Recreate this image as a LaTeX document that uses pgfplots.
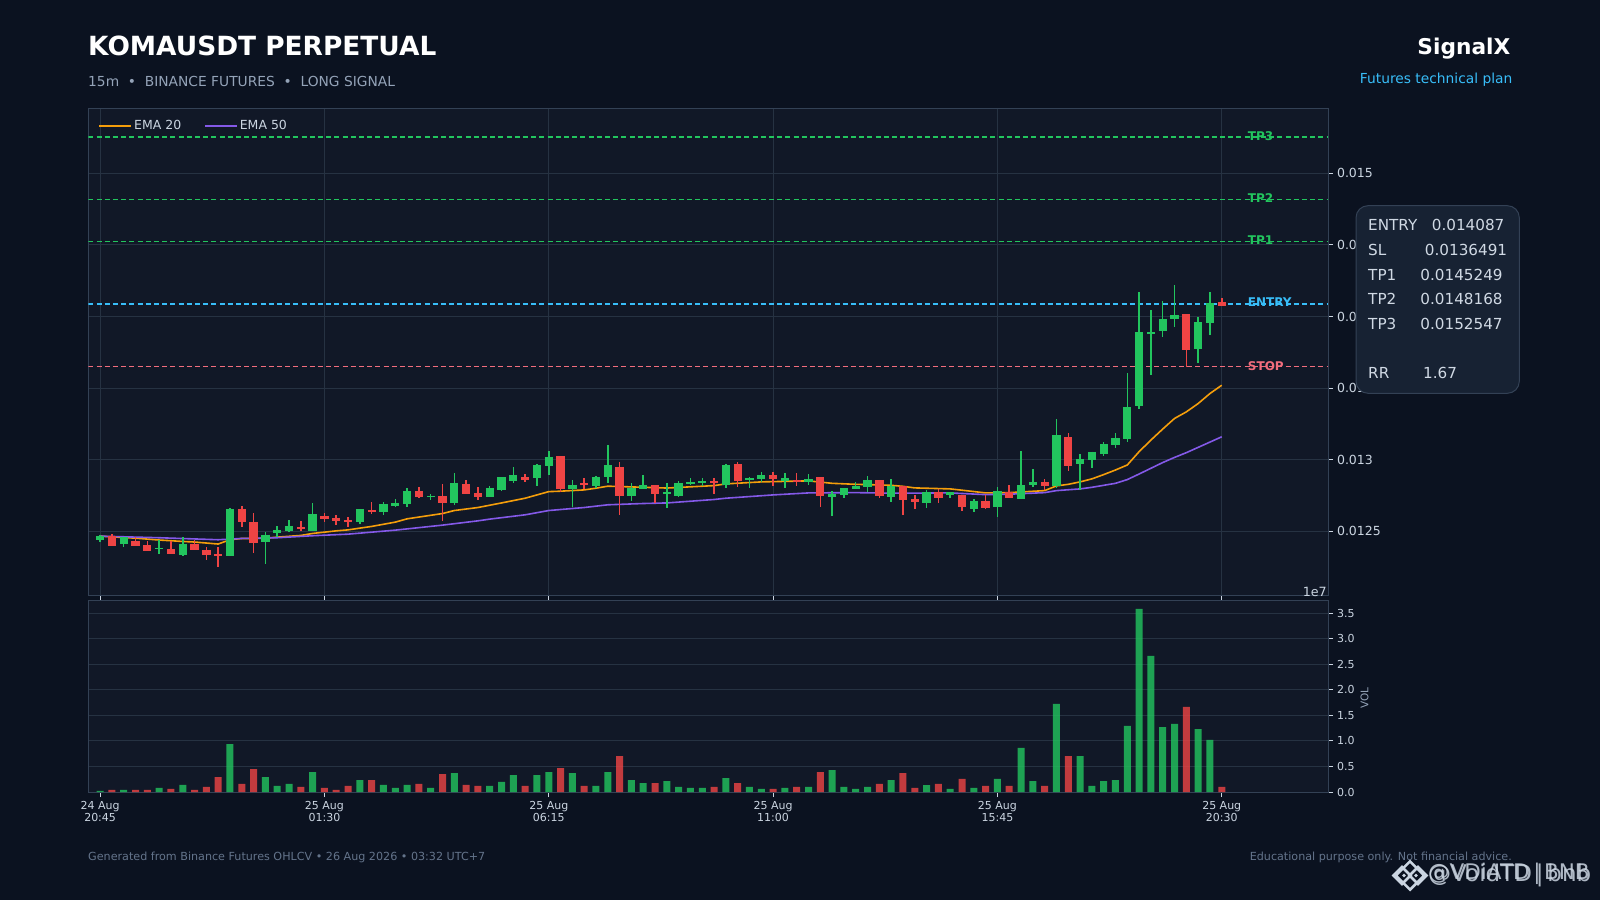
\documentclass[border=0pt]{standalone}
\usepackage{fontspec}
\setmainfont{DejaVu Sans}
\usepackage{pgfplots}
\usepackage{pgfplotstable}
\pgfplotsset{compat=1.18}
\definecolor{bg}{HTML}{0B1220}
\definecolor{panel}{HTML}{111827}
\definecolor{gridc}{HTML}{263242}
\definecolor{spine}{HTML}{334155}
\definecolor{tickc}{HTML}{CBD5E1}
\definecolor{upc}{HTML}{22C55E}
\definecolor{downc}{HTML}{EF4444}
\definecolor{entryc}{HTML}{38BDF8}
\definecolor{stopc}{HTML}{F26D7D}
\definecolor{emaA}{HTML}{F59E0B}
\definecolor{emaB}{HTML}{8459E8}
\definecolor{boxc}{HTML}{172233}
\definecolor{subc}{HTML}{94A3B8}
\definecolor{footc}{HTML}{64748B}
\newcommand{\fs}[1]{\fontsize{#1}{#1}\selectfont}

\pgfplotstableread{
i low bot top high vol
0 0.012425 0.012441 0.012469 0.012476 0.02
2 0.012387 0.012413 0.012457 0.012457 0.04
5 0.012339 0.012373 0.012385 0.012441 0.08
7 0.012325 0.012336 0.012413 0.012459 0.14
11 0.012329 0.012329 0.012657 0.012661 0.94
14 0.012269 0.012427 0.012476 0.012492 0.29
15 0.012459 0.012489 0.012510 0.012536 0.12
16 0.012492 0.012503 0.012538 0.012580 0.157
18 0.012503 0.012503 0.012622 0.012696 0.39
22 0.012548 0.012566 0.012657 0.012657 0.235
24 0.012617 0.012636 0.012691 0.012705 0.14
25 0.012671 0.012678 0.012698 0.012724 0.08
26 0.012673 0.012691 0.012782 0.012803 0.14
28 0.012717 0.012736 0.012747 0.012759 0.08
30 0.012687 0.012698 0.012838 0.012907 0.37
33 0.012738 0.012740 0.012803 0.012814 0.12
34 0.012784 0.012789 0.012879 0.012879 0.196
35 0.012835 0.012851 0.012893 0.012947 0.333
37 0.012819 0.012872 0.012963 0.012967 0.333
38 0.012893 0.012956 0.013019 0.013063 0.39
40 0.012673 0.012796 0.012824 0.012856 0.37
42 0.012805 0.012817 0.012879 0.012886 0.12
43 0.012840 0.012879 0.012963 0.013100 0.39
45 0.012715 0.012747 0.012803 0.012835 0.235
46 0.012793 0.012796 0.012824 0.012891 0.176
48 0.012666 0.012761 0.012775 0.012835 0.215
49 0.012742 0.012747 0.012838 0.012849 0.10
50 0.012821 0.012831 0.012844 0.012870 0.08
51 0.012817 0.012838 0.012851 0.012870 0.08
53 0.012805 0.012824 0.012963 0.012970 0.274
55 0.012803 0.012858 0.012872 0.012882 0.10
56 0.012842 0.012865 0.012893 0.012912 0.06
58 0.012803 0.012851 0.012872 0.012905 0.08
60 0.012824 0.012844 0.012865 0.012898 0.10
62 0.012610 0.012740 0.012761 0.012784 0.43
63 0.012735 0.012754 0.012803 0.012803 0.10
64 0.012796 0.012796 0.012817 0.012842 0.06
65 0.012775 0.012810 0.012859 0.012884 0.10
67 0.012708 0.012740 0.012817 0.012863 0.235
70 0.012666 0.012698 0.012775 0.012789 0.137
72 0.012729 0.012754 0.012775 0.012775 0.06
74 0.012638 0.012657 0.012712 0.012726 0.08
76 0.012603 0.012671 0.012782 0.012812 0.255
78 0.012726 0.012726 0.012824 0.013061 0.862
79 0.012812 0.012824 0.012845 0.012933 0.215
81 0.012805 0.012817 0.013172 0.013281 1.724
83 0.012789 0.012970 0.013005 0.013037 0.705
84 0.012945 0.012998 0.013056 0.013056 0.118
85 0.013023 0.013040 0.013109 0.013121 0.215
86 0.013084 0.013102 0.013151 0.013184 0.235
87 0.013126 0.013144 0.013367 0.013608 1.293
88 0.013351 0.013374 0.013889 0.014172 3.585
89 0.013594 0.013875 0.013889 0.014047 2.664
90 0.013857 0.013896 0.013980 0.014107 1.273
91 0.013926 0.013980 0.014008 0.014221 1.332
93 0.013678 0.013771 0.013959 0.013996 1.234
94 0.013873 0.013952 0.014091 0.014172 1.019
}\upcandles

\pgfplotstableread{
i low bot top high vol
1 0.012399 0.012399 0.012469 0.012480 0.04
3 0.012399 0.012399 0.012434 0.012459 0.04
4 0.012364 0.012364 0.012406 0.012429 0.04
6 0.012339 0.012343 0.012378 0.012429 0.06
8 0.012366 0.012371 0.012413 0.012436 0.04
9 0.012297 0.012336 0.012371 0.012390 0.10
10 0.012248 0.012329 0.012339 0.012390 0.29
12 0.012527 0.012566 0.012657 0.012678 0.157
13 0.012346 0.012420 0.012566 0.012626 0.45
17 0.012499 0.012517 0.012531 0.012571 0.10
19 0.012568 0.012587 0.012608 0.012626 0.08
20 0.012545 0.012573 0.012596 0.012615 0.04
21 0.012527 0.012568 0.012580 0.012599 0.12
23 0.012624 0.012636 0.012650 0.012705 0.235
27 0.012733 0.012740 0.012782 0.012810 0.157
29 0.012575 0.012698 0.012747 0.012831 0.35
31 0.012761 0.012761 0.012831 0.012856 0.14
32 0.012719 0.012740 0.012768 0.012810 0.12
36 0.012844 0.012858 0.012879 0.012898 0.12
39 0.012775 0.012796 0.013026 0.013026 0.47
41 0.012796 0.012824 0.012838 0.012870 0.12
44 0.012615 0.012747 0.012949 0.012984 0.705
47 0.012701 0.012761 0.012824 0.012824 0.176
52 0.012761 0.012838 0.012851 0.012870 0.10
54 0.012810 0.012851 0.012970 0.012981 0.176
57 0.012819 0.012865 0.012893 0.012916 0.06
59 0.012819 0.012844 0.012858 0.012905 0.10
61 0.012670 0.012747 0.012879 0.012879 0.39
66 0.012735 0.012747 0.012859 0.012859 0.157
68 0.012615 0.012719 0.012817 0.012817 0.37
69 0.012659 0.012705 0.012726 0.012752 0.08
71 0.012701 0.012733 0.012775 0.012794 0.157
73 0.012645 0.012671 0.012754 0.012754 0.255
75 0.012657 0.012664 0.012712 0.012754 0.118
77 0.012729 0.012733 0.012775 0.012824 0.118
80 0.012789 0.012817 0.012845 0.012863 0.118
82 0.012921 0.012956 0.013158 0.013188 0.705
92 0.013648 0.013764 0.014015 0.014015 1.665
95 0.014074 0.014074 0.014099 0.014131 0.098
}\downcandles

\pgfplotstableread{
i v
0 0.012466
3 0.012452
5 0.012439
7 0.012429
8 0.012425
10 0.012411
11 0.012441
12 0.012450
13 0.012450
14 0.012452
15 0.012459
17 0.012471
18 0.012485
20 0.012503
21 0.012510
23 0.012534
25 0.012564
26 0.012587
29 0.012624
30 0.012645
32 0.012666
34 0.012698
36 0.012731
38 0.012777
39 0.012780
41 0.012789
42 0.012801
43 0.012815
45 0.012810
48 0.012802
52 0.012819
53 0.012831
56 0.012845
60 0.012852
62 0.012835
64 0.012828
65 0.012826
67 0.012821
68 0.012814
69 0.012803
72 0.012796
73 0.012787
75 0.012768
77 0.012770
80 0.012784
81 0.012817
82 0.012828
83 0.012845
84 0.012866
85 0.012896
86 0.012928
87 0.012963
88 0.013056
89 0.013137
90 0.013214
91 0.013288
92 0.013334
93 0.013392
94 0.013462
95 0.013520
}\emaA

\pgfplotstableread{
i v
0 0.012466
5 0.012455
10 0.012441
12 0.012450
15 0.012455
18 0.012469
21 0.012480
25 0.012508
29 0.012543
32 0.012573
33 0.012585
36 0.012615
38 0.012645
41 0.012666
43 0.012685
46 0.012694
48 0.012698
52 0.012722
53 0.012731
57 0.012754
60 0.012768
64 0.012770
67 0.012766
72 0.012768
75 0.012756
77 0.012759
80 0.012770
81 0.012784
83 0.012796
84 0.012807
86 0.012835
87 0.012861
88 0.012900
89 0.012940
90 0.012980
91 0.013016
92 0.013049
95 0.013160
}\emaB

\pgfplotsset{
  common/.style={
    scale only axis, anchor=south west, width=1239.7pt,
    xmin=-1, xmax=104,
    axis background/.style={fill=panel},
    axis line style={spine,line width=1pt},
    grid style={gridc,line width=1pt},
    major tick length=5pt,
    tick align=outside,
    every tick/.style={tickc,line width=1pt},
    xtick={0,19,38,57,76,95},
    xtick pos=bottom,
    ytick pos=right,
    clip=true,
    /pgf/number format/assume math mode=true,
    scaled y ticks=false,
  },
  wick/.style={draw=none,mark=none,forget plot,
    error bars/.cd,y dir=both,y explicit,error mark=none,
    error bar style={#1,line width=1.5pt}},
  body/.style={draw=none,mark=none,forget plot,
    error bars/.cd,y dir=both,y explicit,error mark=none,
    error bar style={#1,line width=8.3pt}},
  level/.style={#1,line width=1.4pt,dash pattern=on 5pt off 3.2pt,forget plot},
}

\begin{document}
\begin{tikzpicture}
\path[use as bounding box,fill=bg] (0,0) rectangle (1600pt,900pt);

% ---- header
\node[anchor=west,inner sep=0pt,text=white] at (88pt,854pt) {\fs{26.4}\bfseries KOMAUSDT PERPETUAL};
\node[anchor=west,inner sep=0pt,text=subc] at (88pt,818.5pt) {\fs{13.8}15m\ \ •\ \ BINANCE FUTURES\ \ •\ \ LONG SIGNAL};
\node[anchor=east,inner sep=0pt,text=white] at (1510.5pt,851pt) {\fs{21.7}\bfseries SignalX};
\node[anchor=east,inner sep=0pt,text=entryc] at (1512.5pt,820pt) {\fs{13.8}Futures technical plan};

% ---- price panel
\begin{axis}[common,
  at={(88.3pt,304.7pt)}, height=487pt,
  ymin=0.012053, ymax=0.015454,
  grid=major,
  xticklabels={},
  ytick={0.0125,0.013,0.0135,0.014,0.0145,0.015},
  yticklabels={0.0125,0.013,0.0135,0.014,0.0145,0.015},
  yticklabel pos=right,
  yticklabel style={font=\fs{12.5},text=tickc,anchor=west,xshift=0.5pt},
  legend style={at={(0,1)},anchor=north west,draw=none,fill=none,
    font=\fs{12.5},text=tickc,legend columns=2,
    inner xsep=0pt,inner ysep=0pt,xshift=10pt,yshift=-10pt,
    /tikz/every even column/.append style={column sep=21pt},
    /tikz/every odd column/.append style={column sep=0pt}},
  legend cell align=left,
  legend image code/.code={\draw[#1] (0pt,0pt) -- (27pt,0pt); \path (0pt,0pt) -- (32pt,0pt);},
]
\node[anchor=west,inner sep=0pt,text=upc] at (axis cs:97.2,0.0152630) {\fs{12}\bfseries TP3};
\node[anchor=west,inner sep=0pt,text=upc] at (axis cs:97.2,0.0148250) {\fs{12}\bfseries TP2};
\node[anchor=west,inner sep=0pt,text=upc] at (axis cs:97.2,0.0145330) {\fs{12}\bfseries TP1};
\node[anchor=west,inner sep=0pt,text=entryc] at (axis cs:97.2,0.0141000) {\fs{12}\bfseries ENTRY};
\node[anchor=west,inner sep=0pt,text=stopc] at (axis cs:97.2,0.0136540) {\fs{12}\bfseries STOP};
\addplot[level=upc] coordinates {(-1,0.0152547)(104,0.0152547)};
\addplot[level=upc] coordinates {(-1,0.0148168)(104,0.0148168)};
\addplot[level=upc] coordinates {(-1,0.0145249)(104,0.0145249)};
\addplot[level=entryc] coordinates {(-1,0.014087)(104,0.014087)};
\addplot[level=stopc] coordinates {(-1,0.0136491)(104,0.0136491)};
\addplot[emaA,line width=1.6pt] table[x=i,y=v] {\emaA};
\addlegendentry{EMA 20}
\addplot[emaB,line width=1.6pt] table[x=i,y=v] {\emaB};
\addlegendentry{EMA 50}
\addplot[wick=upc] table[x=i,y=top,y error plus expr=\thisrow{high}-\thisrow{top},y error minus expr=\thisrow{top}-\thisrow{low}] {\upcandles};
\addplot[wick=downc] table[x=i,y=top,y error plus expr=\thisrow{high}-\thisrow{top},y error minus expr=\thisrow{top}-\thisrow{low}] {\downcandles};
\addplot[body=upc] table[x=i,y=top,y error plus expr=0,y error minus expr=\thisrow{top}-\thisrow{bot}] {\upcandles};
\addplot[body=downc] table[x=i,y=top,y error plus expr=0,y error minus expr=\thisrow{top}-\thisrow{bot}] {\downcandles};
\end{axis}

% ---- volume panel
\begin{axis}[common,
  at={(88.3pt,108pt)}, height=191.7pt,
  ymin=0, ymax=3.755,
  ymajorgrids=true,
  xticklabels={{24 Aug\\20:45},{25 Aug\\01:30},{25 Aug\\06:15},{25 Aug\\11:00},{25 Aug\\15:45},{25 Aug\\20:30}},
  xticklabel style={font=\fontsize{11}{12.5}\selectfont,text=tickc,align=center,inner sep=0pt,yshift=-4pt},
  ytick={0,0.5,1,1.5,2,2.5,3,3.5},
  yticklabels={0.0,0.5,1.0,1.5,2.0,2.5,3.0,3.5},
  yticklabel pos=right,
  yticklabel style={font=\fs{11},text=tickc,anchor=west,xshift=0.5pt},
  ylabel={VOL},
  ylabel style={at={(axis description cs:1.0295,0.49)},anchor=center,rotate=0,font=\fs{10.5},text=subc,inner sep=0pt},
]
\addplot[ybar,bar width=7pt,bar shift=0pt,fill=upc,fill opacity=0.8,draw=none,forget plot] table[x=i,y=vol] {\upcandles};
\addplot[ybar,bar width=7pt,bar shift=0pt,fill=downc,fill opacity=0.8,draw=none,forget plot] table[x=i,y=vol] {\downcandles};
\end{axis}

% ---- scale note of the volume panel
\node[anchor=east,inner sep=0pt,text=tickc] at (1327pt,308.5pt) {\fs{12.7}1e7};

% ---- levels box
\fill[boxc,draw=spine,line width=1pt,rounded corners=12pt] (1356pt,506.7pt) rectangle (1519.3pt,694.3pt);
\begin{scope}[every node/.style={anchor=base west,inner sep=0pt,text=tickc!90!white,font=\fs{15.2}}]
\node at (1368pt,669.2pt) {ENTRY\ \ \ 0.014087};
\node at (1368pt,644.4pt) {SL\ \ \ \ \ \ \ \ 0.0136491};
\node at (1368pt,619.6pt) {TP1\ \ \ \ \ 0.0145249};
\node at (1368pt,595.0pt) {TP2\ \ \ \ \ 0.0148168};
\node at (1368pt,570.2pt) {TP3\ \ \ \ \ 0.0152547};
\node at (1368pt,521.1pt) {RR\ \ \ \ \ \ \ 1.67};
\end{scope}

% ---- footer
\node[anchor=west,inner sep=0pt,text=footc] at (88pt,43pt) {\fs{11.15}Generated from Binance Futures OHLCV • 26 Aug 2026 • 03:32 UTC+7};
\node[anchor=east,inner sep=0pt,text=footc] at (1512pt,43pt) {\fs{11.15}Educational purpose only. Not financial advice.};

% ---- watermark
\begin{scope}[shift={(1410pt,24.5pt)},x=1pt,y=1pt,draw=tickc,line width=2.6pt,fill=none]
\foreach \cx/\r in {-8/6,8/6}{\draw[rotate around={45:(\cx,0)}] (\cx-\r,-\r) rectangle (\cx+\r,\r);}
\draw[rotate=45] (-10,-10) rectangle (10,10);
\fill[tickc] (-16,0) circle (1.8);
\fill[tickc] (-6,0) circle (1.8);
\fill[tickc] (6,0) circle (1.8);
\end{scope}
\node[anchor=west,inner sep=0pt,text=tickc,opacity=.85] at (1428pt,26pt) {\fs{21.5}@VDiATD\,|\,BNB};
\node[anchor=west,inner sep=0pt,text=tickc,opacity=.85] at (1428pt,24.5pt) {\fs{23}@VoidTD\,|\,bnb};
\end{tikzpicture}
\end{document}
